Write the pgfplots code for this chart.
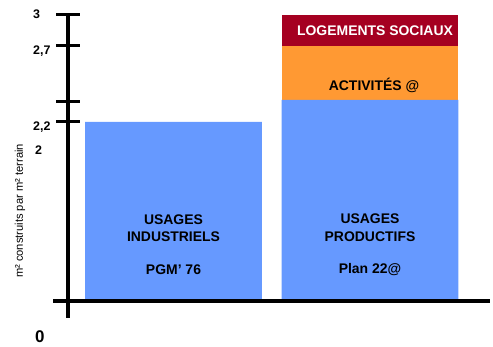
\documentclass[border=0pt]{standalone}
\usepackage{fontspec}
\setmainfont{Liberation Sans}
\usepackage{pgfplots}
\pgfplotsset{compat=1.18}

\definecolor{barblue}{RGB}{102,153,255}
\definecolor{barorange}{RGB}{255,153,51}
\definecolor{barred}{RGB}{165,0,33}

\begin{document}
\begin{tikzpicture}
\path[use as bounding box] (0,0) rectangle (493bp,347bp);
\begin{axis}[
    scale only axis,
    width=422bp, height=303bp,
    at={(68bp,29bp)}, anchor=south west,
    xmin=-0.537, xmax=1.611,
    ymin=-0.209, ymax=3,
    % broken scale: 0-2.2 stretched, 2.2-2.7 compressed around the break
    y coord trafo/.code={\pgfmathparse{#1<=2.2 ? #1*81.3636 : (#1<=2.7 ? 179+(#1-2.2)*152 : 255+(#1-2.7)*103.333)}},
    axis line style={draw=none},
    xtick=\empty,
    ytick={2.2,2.3316,2.7,3},
    yticklabels={},
    ytick pos=left,
    tick align=center,
    major tick length=23bp,
    every tick/.style={black, line width=3bp},
    ybar, bar width=0.9,
    clip=false,
]
\addplot[fill=barred, draw=none, bar shift=0pt] coordinates {(1,3)};
\addplot[fill=barorange, draw=none, bar shift=0pt] coordinates {(1,2.7)};
\addplot[fill=barblue, draw=none, bar shift=0pt] coordinates {(0,2.2) (1,2.345)};
\end{axis}
% axis lines
\draw[line width=4.5bp] (68bp,29bp) -- (68bp,332bp);
\draw[line width=4.5bp] (53bp,46bp) -- (490bp,46bp);
% tick labels
\begin{scope}[every node/.style={anchor=base west, inner sep=0pt, font=\bfseries\fontsize{12.5}{14}\selectfont}]
\node at (33bp,328bp) {3};
\node at (33bp,292bp) {2,7};
\node at (33bp,216bp) {2,2};
\node at (35bp,192bp) {2};
\node[font=\bfseries\fontsize{17}{20}\selectfont] at (35bp,5bp) {0};
\end{scope}
\node[rotate=90, inner sep=0pt, font=\fontsize{11.2}{13}\selectfont] at (20bp,136bp) {m² construits par m² terrain};
% bar texts
\begin{scope}[every node/.style={anchor=base, inner sep=0pt, font=\bfseries\fontsize{14}{17}\selectfont}]
\node at (173.5bp,122bp) {USAGES};
\node at (173.5bp,105bp) {INDUSTRIELS};
\node at (173.5bp,72bp) {PGM’ 76};
\node at (370bp,123bp) {USAGES};
\node at (370bp,105bp) {PRODUCTIFS};
\node at (370bp,73bp) {Plan 22@};
\node at (374bp,256bp) {ACTIVITÉS @};
\node[text=white] at (375bp,311bp) {LOGEMENTS SOCIAUX};
\end{scope}
\end{tikzpicture}
\end{document}
